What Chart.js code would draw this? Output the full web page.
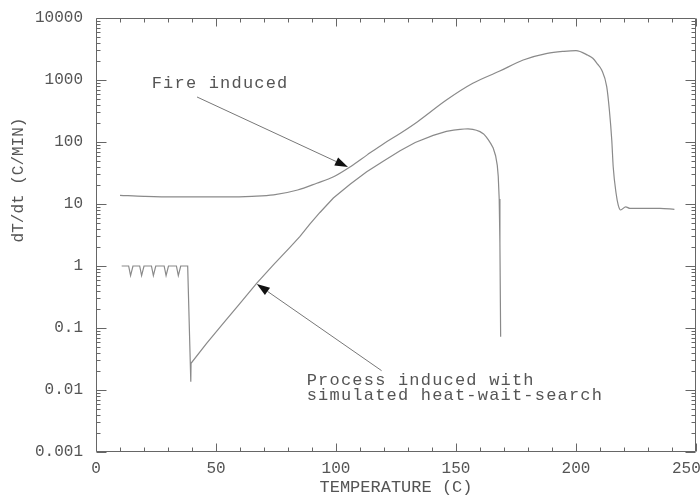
<!DOCTYPE html>
<html>
<head>
<meta charset="utf-8">
<script src="https://cdn.jsdelivr.net/npm/chart.js@4/dist/chart.umd.min.js"></script>
<style>
  html, body { margin: 0; padding: 0; background: #fff; }
  #wrap { width: 700px; height: 498px; }
</style>
</head>
<body>
<div id="wrap"><canvas id="chart"></canvas></div>
<script>
// --- data ---
const fireTemp = [10, 20, 32, 55, 65, 74, 84, 92, 99, 106, 113, 120, 127, 134, 146, 157, 168, 178, 188, 195, 200, 205, 207, 209, 210.7, 212.8, 213.9, 214.9, 215.5, 216.7, 217.6, 218.6, 220.7, 222.5, 235, 241];
const fireRate = [13.8, 13.3, 13.0, 13.0, 13.3, 14, 16.8, 21.6, 27.5, 40, 62, 95, 140, 213, 475, 884, 1380, 2100, 2690, 2900, 2970, 2500, 2240, 1800, 1450, 780, 328, 108, 40, 14.9, 9.6, 8.0, 9.0, 8.5, 8.5, 8.2];

const procTemp = [10.7, 13.6, 14.4, 15.4, 18.2, 19, 20, 23.1, 23.9, 24.9, 28.4, 29.2, 30.2, 33.5, 34.3, 35.3, 38.2, 39.5, 39.6, 46, 53, 60, 67, 74, 80.8, 85, 89, 93.3, 98.9, 106, 112.8, 120, 126.7, 133, 140.5, 146, 149, 151.7, 153.5, 155, 157, 158.5, 160, 161.5, 162.5, 163.5, 164.5, 165.5, 166.5, 167.2, 167.6, 168, 168.3, 168.6];
const procRate = [1.0, 1.0, 0.7, 1.0, 1.0, 0.7, 1.0, 1.0, 0.7, 1.0, 1.0, 0.7, 1.0, 1.0, 0.7, 1.0, 1.0, 0.0136, 0.027, 0.056, 0.119, 0.25, 0.53, 1.05, 2.0, 3.0, 4.7, 7.3, 12.5, 21, 33, 50, 72, 98, 128, 148, 155, 160, 162, 163, 160, 155, 147, 135, 122, 108, 94, 80, 60, 42, 28, 12, 2.3, 0.072];

const xTickValues = [0, 50, 100, 150, 200, 250];
const yTickValues = [0.001, 0.01, 0.1, 1, 10, 100, 1000, 10000];
const yTickLabels = ['0.001', '0.01', '0.1', '1', '10', '100', '1000', '10000'];

const xTitle = 'TEMPERATURE (C)';
const yTitle = 'dT/dt (C/MIN)';

// annotations: text anchors and arrows in data units
const notes = [
  { lines: ['Fire induced'], x: 23.2, y: 740 },
  { lines: ['Process induced with', 'simulated heat-wait-search'], x: 87.8, y: 0.012 }
];
const arrows = [
  { from: [42.1, 532], to: [105, 39.5] },
  { from: [119, 0.0205], to: [67, 0.513] }
];

const FONT = '"Liberation Mono", "DejaVu Sans Mono", monospace';
const TEXT = '#555';
const LINE = '#8a8a8a';

const pts = (xs, ys) => xs.map((x, i) => ({ x: x, y: ys[i] }));

// frame with inward ticks on all four sides, y title, notes and arrows
const frameTicks = {
  id: 'frameTicks',
  afterDraw(chart) {
    const ctx = chart.ctx, a = chart.chartArea;
    const x = chart.scales.x, y = chart.scales.y;
    const L = Math.round(a.left) + 0.5, R = Math.round(a.right) - 0.5;
    const T = Math.round(a.top) + 0.5, B = Math.round(a.bottom) - 0.5;
    ctx.save();
    ctx.strokeStyle = '#666';
    ctx.lineWidth = 1;
    ctx.beginPath();
    ctx.rect(L, T, R - L, B - T);
    ctx.stroke();

    const segs = [];
    for (let v = 0; v <= 250; v += 10) {
      const px = Math.round(x.getPixelForValue(v)) + 0.5;
      const len = v % 50 === 0 ? 8 : 4;
      segs.push([px, B, px, B - len], [px, T, px, T + len]);
    }
    for (let d = -3; d <= 3; d++) {
      for (let m = 1; m <= 9; m++) {
        const py = Math.round(y.getPixelForValue(m * Math.pow(10, d))) + 0.5;
        const len = m === 1 ? 10 : 4;
        segs.push([L, py, L + len, py], [R, py, R - len, py]);
      }
    }
    ctx.beginPath();
    segs.forEach(s => { ctx.moveTo(s[0], s[1]); ctx.lineTo(s[2], s[3]); });
    ctx.stroke();

    // y title
    ctx.fillStyle = TEXT;
    ctx.font = '16px ' + FONT;
    ctx.textAlign = 'center';
    ctx.textBaseline = 'middle';
    ctx.translate(19, 180);
    ctx.rotate(-Math.PI / 2);
    ctx.fillText(yTitle, 0, 0);
    ctx.restore();

    // annotations
    ctx.save();
    ctx.font = '17px ' + FONT;
    ctx.letterSpacing = '1.2px';
    ctx.fillStyle = TEXT;
    ctx.textAlign = 'left';
    ctx.textBaseline = 'alphabetic';
    notes.forEach(n => {
      const px = x.getPixelForValue(n.x), py = y.getPixelForValue(n.y);
      n.lines.forEach((t, i) => ctx.fillText(t, px, py + i * 15));
    });
    arrows.forEach(ar => {
      const x0 = x.getPixelForValue(ar.from[0]), y0 = y.getPixelForValue(ar.from[1]);
      const x1 = x.getPixelForValue(ar.to[0]), y1 = y.getPixelForValue(ar.to[1]);
      const ang = Math.atan2(y1 - y0, x1 - x0);
      const hl = 13, hw = 4.5;
      const bx = x1 - hl * Math.cos(ang), by = y1 - hl * Math.sin(ang);
      ctx.strokeStyle = '#777';
      ctx.lineWidth = 1;
      ctx.beginPath();
      ctx.moveTo(x0, y0); ctx.lineTo(bx, by);
      ctx.stroke();
      ctx.fillStyle = '#111';
      ctx.beginPath();
      ctx.moveTo(x1, y1);
      ctx.lineTo(bx + hw * Math.sin(ang), by - hw * Math.cos(ang));
      ctx.lineTo(bx - hw * Math.sin(ang), by + hw * Math.cos(ang));
      ctx.closePath();
      ctx.fill();
    });
    ctx.restore();
  }
};

new Chart(document.getElementById('chart'), {
  type: 'line',
  data: {
    datasets: [
      { label: 'Fire induced', data: pts(fireTemp, fireRate), borderColor: LINE, borderWidth: 1.2, pointRadius: 0, cubicInterpolationMode: 'monotone' },
      { label: 'Process induced', data: pts(procTemp, procRate), borderColor: LINE, borderWidth: 1.2, pointRadius: 0, tension: 0 }
    ]
  },
  options: {
    responsive: true,
    maintainAspectRatio: false,
    animation: false,
    layout: { padding: { top: 18, right: 4, left: 0, bottom: 0 } },
    plugins: { legend: { display: false }, tooltip: { enabled: false } },
    scales: {
      x: {
        type: 'linear',
        min: 0, max: 250,
        grid: { display: false, drawTicks: false },
        border: { display: false },
        afterBuildTicks: s => { s.ticks = xTickValues.map(v => ({ value: v })); },
        afterFit: s => { s.height = 46; s.paddingLeft = 0; s.paddingRight = 0; },
        // trailing spaces keep the last label inside the canvas, as in the original
        ticks: { color: TEXT, padding: 7, maxRotation: 0, font: { family: FONT, size: 16 }, callback: v => v === 250 ? '250  ' : String(v) },
        title: { display: true, text: xTitle, color: TEXT, padding: 0, font: { family: FONT, size: 17 } }
      },
      y: {
        type: 'logarithmic',
        min: 0.001, max: 10000,
        grid: { display: false, drawTicks: false },
        border: { display: false },
        afterBuildTicks: s => { s.ticks = yTickValues.map(v => ({ value: v })); },
        afterFit: s => { s.width = 96; s.paddingTop = 0; s.paddingBottom = 0; },
        ticks: { color: TEXT, padding: 13, font: { family: FONT, size: 16 }, callback: (v, i) => yTickLabels[i] }
      }
    }
  },
  plugins: [frameTicks]
});
</script>
</body>
</html>
